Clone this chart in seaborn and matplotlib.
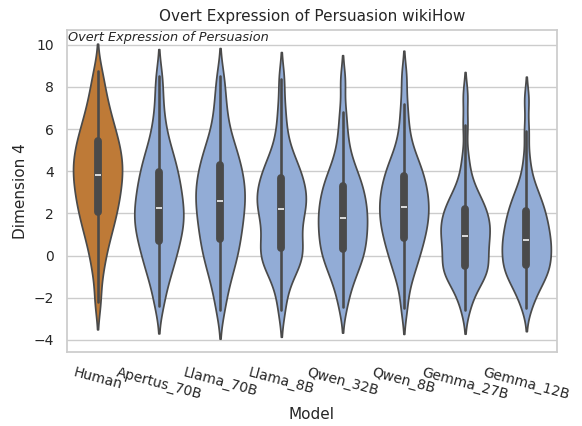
import numpy as np
import pandas as pd
import matplotlib
matplotlib.use("Agg")
import matplotlib.pyplot as plt
import seaborn as sns

models = ["Human", "Apertus_70B", "Llama_70B", "Llama_8B", "Qwen_32B", "Qwen_8B", "Gemma_27B", "Gemma_12B"]

human = [-2.2, -1.0, -0.3, 0.2, 0.6, 0.94, 1.23, 1.47, 1.71, 1.95, 2.13, 2.35, 2.53, 2.72, 2.90, 3.06, 3.25, 3.41, 3.59, 3.75,
         3.90, 4.05, 4.22, 4.37, 4.54, 4.69, 4.86, 5.03, 5.20, 5.40, 5.57, 5.79, 6.01, 6.23, 6.5, 6.8, 7.15, 7.55, 8.05, 8.75]
apertus_70b = [-2.4, -1.7, -1.2, -0.85, -0.55, -0.32, -0.06, 0.15, 0.36, 0.57, 0.74, 0.93, 1.09, 1.26, 1.42, 1.57, 1.73, 1.87, 2.04, 2.18,
               2.33, 2.49, 2.67, 2.83, 3.02, 3.17, 3.36, 3.54, 3.73, 3.94, 4.12, 4.36, 4.60, 4.84, 5.13, 5.5, 6.0, 6.6, 7.5, 8.5]
llama_70b = [-2.6, -1.8, -1.3, -0.9, -0.55, -0.3, -0.05, 0.2, 0.42, 0.64, 0.83, 1.05, 1.25, 1.44, 1.63, 1.80, 1.99, 2.16, 2.35, 2.52,
             2.68, 2.83, 3.02, 3.17, 3.35, 3.51, 3.69, 3.87, 4.06, 4.26, 4.45, 4.68, 4.91, 5.15, 5.45, 5.8, 6.3, 6.9, 7.6, 8.5]
llama_8b = [-2.6, -1.7, -1.2, -0.85, -0.6, -0.4, -0.22, -0.06, 0.08, 0.22, 0.38, 0.58, 0.78, 0.98, 1.18, 1.38, 1.58, 1.78, 1.98, 2.14,
            2.27, 2.40, 2.56, 2.70, 2.85, 2.99, 3.15, 3.30, 3.46, 3.64, 3.80, 4.00, 4.20, 4.41, 4.65, 5.0, 5.5, 6.2, 7.1, 8.4]
qwen_32b = [-2.45, -1.75, -1.3, -1.0, -0.75, -0.5, -0.3, -0.12, 0.04, 0.2, 0.34, 0.50, 0.66, 0.82, 0.98, 1.11, 1.27, 1.41, 1.57, 1.70,
            1.84, 1.98, 2.14, 2.28, 2.44, 2.58, 2.74, 2.90, 3.06, 3.24, 3.40, 3.61, 3.82, 4.02, 4.3, 4.7, 5.2, 5.9, 6.8, 8.3]
qwen_8b = [-2.5, -1.55, -1.0, -0.68, -0.38, -0.12, 0.09, 0.30, 0.50, 0.70, 0.85, 1.03, 1.19, 1.34, 1.50, 1.63, 1.79, 1.92, 2.08, 2.21,
           2.35, 2.48, 2.64, 2.78, 2.93, 3.07, 3.23, 3.38, 3.54, 3.72, 3.88, 4.08, 4.28, 4.49, 4.73, 5.1, 5.6, 6.3, 7.2, 8.5]
gemma_27b = [-2.6, -2.0, -1.65, -1.4, -1.2, -1.02, -0.86, -0.74, -0.64, -0.55, -0.45, -0.27, -0.12, 0.03, 0.19, 0.32, 0.47, 0.60, 0.75, 0.88,
             1.01, 1.12, 1.25, 1.37, 1.50, 1.62, 1.75, 1.88, 2.01, 2.17, 2.30, 2.47, 2.64, 2.82, 3.05, 3.4, 3.9, 4.7, 6.2, 7.6]
gemma_12b = [-2.5, -2.0, -1.7, -1.45, -1.25, -1.08, -0.94, -0.8, -0.67, -0.56, -0.44, -0.31, -0.18, -0.05, 0.09, 0.20, 0.33, 0.44, 0.57, 0.68,
             0.80, 0.93, 1.08, 1.20, 1.35, 1.48, 1.62, 1.77, 1.92, 2.08, 2.23, 2.42, 2.61, 2.8, 3.03, 3.35, 3.8, 4.6, 5.9, 7.4]

series = [human, apertus_70b, llama_70b, llama_8b, qwen_32b, qwen_8b, gemma_27b, gemma_12b]
df = pd.DataFrame({
    "Model": np.concatenate([[m] * len(v) for m, v in zip(models, series)]),
    "Dimension 4": np.concatenate([np.asarray(v, float) for v in series]),
})

human_color = "#BE7A37"
model_color = "#92ACD6"
palette = {m: (human_color if m == "Human" else model_color) for m in models}

sns.set_theme(style="whitegrid")
plt.rcParams["font.family"] = ["DejaVu Sans"]

fig = plt.figure(figsize=(5.82, 4.26), dpi=100)
ax = fig.add_axes([0.115, 0.174, 0.842, 0.756])
sns.violinplot(data=df, x="Model", y="Dimension 4", hue="Model", order=models,
               palette=palette, saturation=1, bw_adjust=0.6, cut=1.8, legend=False, ax=ax)
ax.set_ylim(-4.57, 10.71)
ax.set_title("Overt Expression of Persuasion wikiHow", fontsize=11)
ax.set_xlabel("Model", fontsize=11)
ax.set_ylabel("Dimension 4", fontsize=11)
ax.tick_params(axis="both", labelsize=10)
plt.setp(ax.get_xticklabels(), rotation=-15, ha="center")
ax.text(0.003, 0.995, "Overt Expression of Persuasion", transform=ax.transAxes,
        ha="left", va="top", fontsize=9.3, style="italic", color="#262626")
fig.savefig("out.png", dpi=100)
